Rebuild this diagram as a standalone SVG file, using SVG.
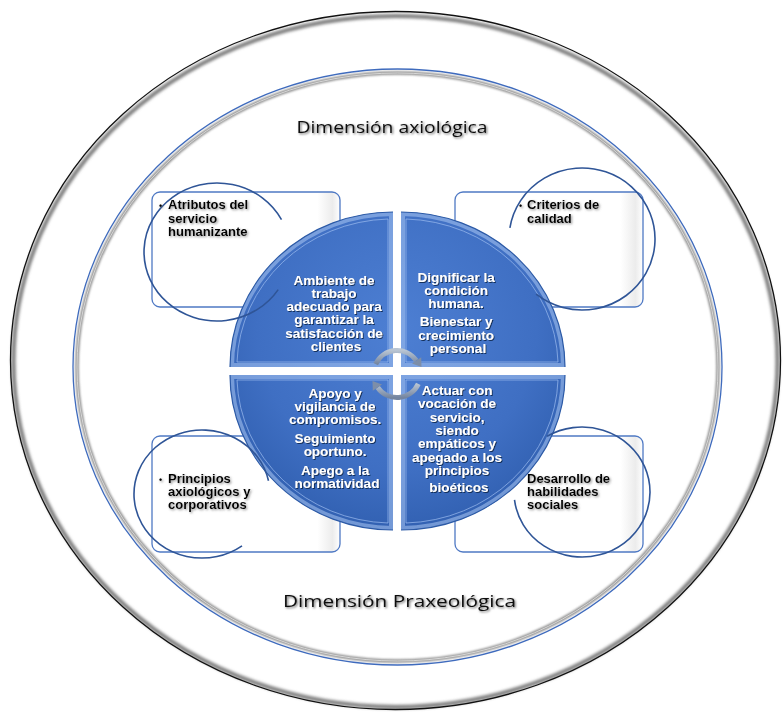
<svg xmlns="http://www.w3.org/2000/svg" width="783" height="713" viewBox="0 0 783 713">
  <defs>
    <style>
      .title { font-family: "Open Sans", "Noto Sans", sans-serif; font-size: 17px; fill: #111; }
      .qtext { font-family: "Liberation Sans", Arial, sans-serif; font-weight: bold; font-size: 13.5px; fill: #ffffff; text-anchor: middle; }
      .btext { font-family: "Liberation Sans", Arial, sans-serif; font-weight: bold; font-size: 13px; fill: #000000; }
      .box { fill: url(#boxFill); stroke: #4f79c4; stroke-width: 1.3; }
      .ring { fill: none; stroke: #2f5597; stroke-width: 1.6; }
      .quad { fill: url(#pieFill); }
      .bevel { fill: none; stroke: #a9c6f3; stroke-width: 8; stroke-opacity: 0.55; }
      .inset { fill: none; stroke: #9dbcef; stroke-width: 1; stroke-opacity: 0.7; }
      .rim { fill: none; stroke: #2c5aa6; stroke-width: 1.2; }
      .cyc { fill: none; stroke: url(#cycFill); stroke-width: 5; }
    </style>
    <radialGradient id="pieFill" gradientUnits="userSpaceOnUse" cx="397" cy="330" r="200">
      <stop offset="0" stop-color="#4d7fd3"/>
      <stop offset="0.7" stop-color="#3f6fc3"/>
      <stop offset="1" stop-color="#3261b2"/>
    </radialGradient>
    <linearGradient id="boxFill" x1="0" y1="0" x2="1" y2="0">
      <stop offset="0" stop-color="#ffffff"/>
      <stop offset="0.88" stop-color="#ffffff"/>
      <stop offset="0.96" stop-color="#ececec"/>
      <stop offset="1" stop-color="#ffffff"/>
    </linearGradient>
    <linearGradient id="cycFill" x1="0" y1="0" x2="0" y2="1">
      <stop offset="0" stop-color="#b9c5d3"/>
      <stop offset="1" stop-color="#7485a0"/>
    </linearGradient>
    <filter id="soft" x="-5%" y="-5%" width="110%" height="110%">
      <feGaussianBlur stdDeviation="1.6"/>
    </filter>
    <filter id="softer" x="-5%" y="-5%" width="110%" height="110%">
      <feGaussianBlur stdDeviation="0.8"/>
    </filter>
    <filter id="darkShadow" x="-10%" y="-20%" width="120%" height="140%">
      <feDropShadow dx="1.2" dy="1.2" stdDeviation="0.8" flood-color="#000" flood-opacity="0.6"/>
    </filter>
    <filter id="navyShadow" x="-10%" y="-20%" width="120%" height="140%">
      <feDropShadow dx="1" dy="1" stdDeviation="0.7" flood-color="#0d2550" flood-opacity="0.9"/>
    </filter>
    <filter id="greyShadow" x="-10%" y="-20%" width="120%" height="140%">
      <feDropShadow dx="1.2" dy="1.2" stdDeviation="1" flood-color="#666" flood-opacity="0.7"/>
    </filter>
    <clipPath id="cTL"><path d="M393,367 L230,367 A163,155 0 0 1 393,212 Z"/></clipPath>
    <clipPath id="cTR"><path d="M401,367 L401,212 A164,155 0 0 1 565,367 Z"/></clipPath>
    <clipPath id="cBL"><path d="M393,375 L393,530 A163,155 0 0 1 230,375 Z"/></clipPath>
    <clipPath id="cBR"><path d="M401,375 L565,375 A164,155 0 0 1 401,530 Z"/></clipPath>
  </defs>

  <rect width="783" height="713" fill="#ffffff"/>

  <!-- outer frame ellipse with soft inner shadow -->
  <g id="outer-frame">
    <ellipse cx="395.5" cy="361.5" rx="382" ry="345.5" fill="none" stroke="#7a7a7a" stroke-width="4" filter="url(#soft)"/>
    <ellipse cx="395.5" cy="360.5" rx="385" ry="349" fill="none" stroke="#111" stroke-width="1.3"/>
  </g>

  <!-- inner ring: blue line with grey tube -->
  <g id="inner-frame">
    <ellipse cx="397.5" cy="367" rx="320.5" ry="294" fill="none" stroke="#8f8f8f" stroke-width="3.5" filter="url(#softer)"/>
    <ellipse cx="397.5" cy="367" rx="320.5" ry="294" fill="none" stroke="#e6e6e6" stroke-width="0.8"/>
    <ellipse cx="397.5" cy="367" rx="324.5" ry="298" fill="none" stroke="#3f6bbd" stroke-width="1.3"/>
  </g>

  <g id="title-axiologica">
    <text class="title" x="392" y="133" text-anchor="middle" textLength="191" lengthAdjust="spacingAndGlyphs" filter="url(#darkShadow)">Dimensión axiológica</text>
  </g>
  <g id="title-praxeologica">
    <text class="title" x="399.5" y="607" text-anchor="middle" textLength="233" lengthAdjust="spacingAndGlyphs" filter="url(#darkShadow)">Dimensión Praxeológica</text>
  </g>

  <!-- side boxes -->
  <g id="box-atributos">
    <rect class="box" x="152" y="192" width="188" height="115" rx="8"/>
  </g>
  <g id="box-criterios">
    <rect class="box" x="455" y="192" width="188" height="115" rx="8"/>
  </g>
  <g id="box-principios">
    <rect class="box" x="152" y="436" width="188" height="116" rx="8"/>
  </g>
  <g id="box-habilidades">
    <rect class="box" x="455" y="436" width="188" height="116" rx="8"/>
  </g>

  <!-- central pie, four quadrants -->
  <g id="quad-ambiente">
    <path class="quad" d="M393,367 L230,367 A163,155 0 0 1 393,212 Z"/>
    <path class="bevel" clip-path="url(#cTL)" d="M393,367 L230,367 A163,155 0 0 1 393,212 Z"/>
    <path class="inset" d="M388,362 L237,362 A156,148 0 0 1 388,219 Z"/>
    <path class="rim" d="M230,367 A163,155 0 0 1 393,212"/>
    <text class="qtext" filter="url(#navyShadow)">
      <tspan x="336" y="284.5">Ambiente de</tspan>
      <tspan x="336" y="297.8">trabajo</tspan>
      <tspan x="336" y="311.1">adecuado para</tspan>
      <tspan x="336" y="324.4">garantizar la</tspan>
      <tspan x="336" y="337.7">satisfacción de</tspan>
      <tspan x="336" y="351">clientes</tspan>
    </text>
  </g>
  <g id="quad-dignificar">
    <path class="quad" d="M401,367 L401,212 A164,155 0 0 1 565,367 Z"/>
    <path class="bevel" clip-path="url(#cTR)" d="M401,367 L401,212 A164,155 0 0 1 565,367 Z"/>
    <path class="inset" d="M406,362 L406,219 A157,148 0 0 1 558,362 Z"/>
    <path class="rim" d="M401,212 A164,155 0 0 1 565,367"/>
    <text class="qtext" filter="url(#navyShadow)">
      <tspan x="458" y="281.7">Dignificar la</tspan>
      <tspan x="458" y="295">condición</tspan>
      <tspan x="458" y="308.3">humana.</tspan>
      <tspan x="458" y="326.3">Bienestar y</tspan>
      <tspan x="458" y="339.6">crecimiento</tspan>
      <tspan x="458" y="352.9">personal</tspan>
    </text>
  </g>
  <g id="quad-apoyo">
    <path class="quad" d="M393,375 L393,530 A163,155 0 0 1 230,375 Z"/>
    <path class="bevel" clip-path="url(#cBL)" d="M393,375 L393,530 A163,155 0 0 1 230,375 Z"/>
    <path class="inset" d="M388,380 L388,523 A156,148 0 0 1 237,380 Z"/>
    <path class="rim" d="M393,530 A163,155 0 0 1 230,375"/>
    <text class="qtext" filter="url(#navyShadow)">
      <tspan x="337" y="397.7">Apoyo y</tspan>
      <tspan x="337" y="411">vigilancia de</tspan>
      <tspan x="337" y="424.3">compromisos.</tspan>
      <tspan x="337" y="443">Seguimiento</tspan>
      <tspan x="337" y="456.3">oportuno.</tspan>
      <tspan x="337" y="475">Apego a la</tspan>
      <tspan x="337" y="488.3">normatividad</tspan>
    </text>
  </g>
  <g id="quad-actuar">
    <path class="quad" d="M401,375 L565,375 A164,155 0 0 1 401,530 Z"/>
    <path class="bevel" clip-path="url(#cBR)" d="M401,375 L565,375 A164,155 0 0 1 401,530 Z"/>
    <path class="inset" d="M406,380 L558,380 A157,148 0 0 1 406,523 Z"/>
    <path class="rim" d="M565,375 A164,155 0 0 1 401,530"/>
    <text class="qtext" filter="url(#navyShadow)">
      <tspan x="459" y="395">Actuar con</tspan>
      <tspan x="459" y="408.3">vocación de</tspan>
      <tspan x="459" y="421.6">servicio,</tspan>
      <tspan x="459" y="434.9">siendo</tspan>
      <tspan x="459" y="448.2">empáticos y</tspan>
      <tspan x="459" y="461.5">apegado a los</tspan>
      <tspan x="459" y="474.8">principios</tspan>
      <tspan x="459" y="492">bioéticos</tspan>
    </text>
  </g>

  <!-- cycle arrows in the centre of the pie -->
  <g id="connectors">
    <path class="cyc" d="M375.7,364.1 A23.5,23.5 0 0 1 416.3,360.5"/>
    <polygon points="421.5,367 421.2,357.2 412,363.6" fill="#7d8ea8"/>
    <path class="cyc" d="M418.3,383.9 A23.5,23.5 0 0 1 377.7,387.5"/>
    <polygon points="372.5,381 372.8,390.8 382,384.4" fill="#7d8ea8"/>
  </g>

  <!-- open circles around the side boxes -->
  <g id="ring-atributos">
    <path class="ring" d="M281.5,219.6 A73,69 0 1 0 278.2,289.6"/>
  </g>
  <g id="ring-criterios">
    <path class="ring" d="M509.9,227.9 A73,71 0 1 1 536.1,294.2"/>
  </g>
  <g id="ring-principios">
    <path class="ring" d="M242,545.8 A68,64 0 1 1 268.5,480.7"/>
  </g>
  <g id="ring-habilidades">
    <path class="ring" d="M547,436.3 A68,65 0 1 1 514.5,499.9"/>
  </g>

  <!-- side box labels -->
  <g id="label-atributos">
    <text class="btext" filter="url(#greyShadow)">
      <tspan x="159" y="209.3" font-size="9">•</tspan>
      <tspan x="168" y="209.3">Atributos del</tspan>
      <tspan x="168" y="222.6">servicio</tspan>
      <tspan x="168" y="235.9">humanizante</tspan>
    </text>
  </g>
  <g id="label-criterios">
    <text class="btext" filter="url(#greyShadow)">
      <tspan x="519" y="209.3" font-size="9">•</tspan>
      <tspan x="527" y="209.3">Criterios de</tspan>
      <tspan x="527" y="222.6">calidad</tspan>
    </text>
  </g>
  <g id="label-principios">
    <text class="btext" filter="url(#greyShadow)">
      <tspan x="159" y="482.7" font-size="9">•</tspan>
      <tspan x="168" y="482.7">Principios</tspan>
      <tspan x="168" y="496">axiológicos y</tspan>
      <tspan x="168" y="509.3">corporativos</tspan>
    </text>
  </g>
  <g id="label-habilidades">
    <text class="btext" filter="url(#greyShadow)">
      <tspan x="527" y="482.7">Desarrollo de</tspan>
      <tspan x="527" y="495.7">habilidades</tspan>
      <tspan x="527" y="508.7">sociales</tspan>
    </text>
  </g>
</svg>
